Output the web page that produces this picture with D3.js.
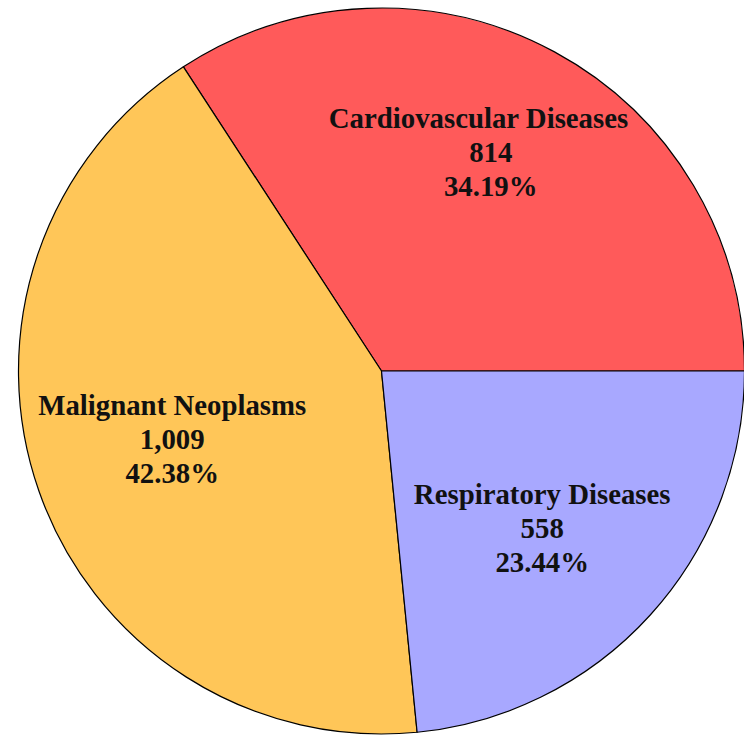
<!DOCTYPE html>
<html>
<head>
<meta charset="utf-8">
<script src="https://cdn.jsdelivr.net/npm/d3@7"></script>
<style>
  html, body { margin: 0; padding: 0; background: #ffffff; overflow: hidden; }
  svg { display: block; }
  text { font-family: "Liberation Serif", "Times New Roman", serif; font-weight: bold; fill: #111; }
</style>
</head>
<body>
<svg id="chart" width="744" height="736"></svg>
<script>
// Causes of death, counts per category
const categories = ["Cardiovascular Diseases", "Malignant Neoplasms", "Respiratory Diseases"];
const counts = [814, 1009, 558];
const colors = ["#FF5A5A", "#FFC658", "#A8A8FF"];

const width = 744, height = 736;
const cx = 381.5, cy = 371, radius = 363;
const fontSize = 28.8, lineGap = 34;

// small hand placement tweaks for the label blocks (layout only)
const labelNudge = [[2, -20], [3, -6], [-6, 7]];

const svg = d3.select("#chart");
const g = svg.append("g").attr("transform", `translate(${cx},${cy})`);

const data = categories.map((c, i) => ({ name: c, value: counts[i], color: colors[i], idx: i }));
const total = d3.sum(counts);

// slices run counter-clockwise starting at 3 o'clock
const pie = d3.pie()
  .value(d => d.value)
  .sort(null)
  .startAngle(Math.PI / 2)
  .endAngle(Math.PI / 2 - 2 * Math.PI);

const arcs = pie(data);
const arc = d3.arc().innerRadius(0).outerRadius(radius);
const labelArc = d3.arc().innerRadius(225).outerRadius(225);

g.selectAll("path.slice")
  .data(arcs)
  .join("path")
  .attr("class", "slice")
  .attr("d", arc)
  .attr("fill", d => d.data.color)
  .attr("stroke", "#000")
  .attr("stroke-width", 1.2)
  .attr("stroke-linejoin", "round");

const fmtCount = d3.format(",");
const fmtPct = d3.format(".2%");

arcs.forEach(a => {
  const [lx, ly] = labelArc.centroid(a);
  const nudge = labelNudge[a.data.idx];
  const x0 = lx + nudge[0];
  const yMid = ly + 9 + nudge[1];
  const lines = [a.data.name, fmtCount(a.data.value), fmtPct(a.data.value / total)];
  lines.forEach((t, k) => {
    const yb = yMid + (k - 1) * lineGap;
    const txt = g.append("text")
      .attr("x", x0)
      .attr("y", yb)
      .attr("text-anchor", "middle")
      .style("font-size", fontSize + "px")
      .text(t);
    // keep each line inside the circle
    const w = txt.node().getComputedTextLength();
    const yTop = Math.abs(yb - fontSize * 0.75) > Math.abs(yb) ? yb - fontSize * 0.75 : yb;
    const maxHalf = Math.sqrt(Math.max(0, radius * radius - yTop * yTop)) - 2;
    let x = x0;
    if (x + w / 2 > maxHalf) x = maxHalf - w / 2;
    if (x - w / 2 < -maxHalf) x = -maxHalf + w / 2;
    txt.attr("x", x);
  });
});
</script>
</body>
</html>
